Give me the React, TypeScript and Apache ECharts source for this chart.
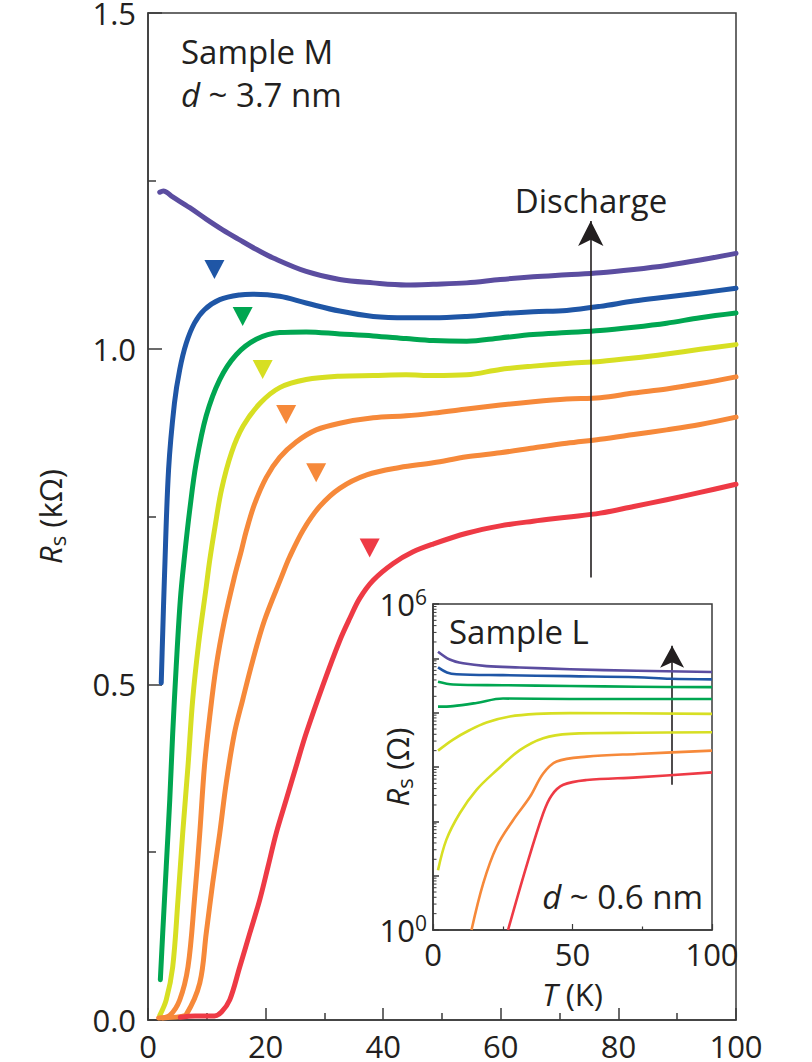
import React, { useEffect, useRef } from 'react';
import * as echarts from 'echarts';

const FONT = '"Open Sans", "Noto Sans", sans-serif';
const INK = '#231f20';
const AXIS = '#3a3a3a';

const PURPLE = '#5b4da0';
const BLUE = '#1f56a6';
const GREEN = '#00a651';
const YELLOW = '#d7df23';
const ORANGE = '#f6893a';
const RED = '#ee3a45';

// ---- Main panel: Sample M, d ~ 3.7 nm. T (K) vs Rs (kΩ) ----
const purpleT = [2.0, 2.6, 4.2, 7.1, 9.9, 12.7, 15.6, 18.4, 21.3, 26.9, 32.6, 38.3, 43.9, 48.5, 54.2, 59.9, 65.5, 71.2, 76.9, 82.6, 88.2, 93.9, 100];
const purpleR = [1.233, 1.235, 1.226, 1.210, 1.193, 1.177, 1.162, 1.148, 1.135, 1.115, 1.103, 1.098, 1.095, 1.096, 1.098, 1.103, 1.107, 1.110, 1.113, 1.118, 1.124, 1.132, 1.142];

const blueT = [2.25, 2.5, 2.8, 3.5, 4.5, 5.4, 6.5, 7.9, 9.6, 12.2, 15.6, 17.8, 22.4, 26.9, 32.6, 38.3, 44.0, 48.5, 54.2, 59.9, 65.5, 71.2, 76.9, 82.6, 88.2, 93.9, 100];
const blueR = [0.502, 0.576, 0.66, 0.820, 0.919, 0.969, 1.008, 1.038, 1.058, 1.073, 1.080, 1.081, 1.078, 1.068, 1.056, 1.048, 1.046, 1.046, 1.048, 1.052, 1.055, 1.057, 1.063, 1.071, 1.077, 1.083, 1.090];

const greenT = [2.1, 2.5, 3.1, 3.7, 4.2, 4.8, 5.5, 6.2, 7.1, 8.2, 9.9, 12.2, 15.0, 18.4, 22.4, 26.9, 32.6, 38.3, 43.9, 48.5, 54.2, 59.9, 65.5, 71.2, 76.9, 82.6, 88.2, 93.9, 100];
const greenR = [0.060, 0.129, 0.228, 0.328, 0.427, 0.527, 0.626, 0.690, 0.760, 0.830, 0.900, 0.954, 0.991, 1.014, 1.024, 1.025, 1.022, 1.019, 1.015, 1.012, 1.011, 1.016, 1.021, 1.024, 1.027, 1.032, 1.038, 1.046, 1.053];

const yellowT = [2.0, 3.1, 4.2, 5.1, 5.9, 6.8, 7.6, 8.6, 9.9, 10.5, 11.4, 12.5, 14.2, 16.2, 19.1, 22.4, 26.9, 32.6, 38.3, 43.9, 48.5, 54.2, 59.9, 65.5, 71.2, 76.9, 82.6, 88.2, 93.9, 100];
const yellowR = [0.007, 0.030, 0.079, 0.179, 0.278, 0.378, 0.477, 0.560, 0.645, 0.685, 0.735, 0.790, 0.845, 0.885, 0.919, 0.942, 0.954, 0.959, 0.960, 0.961, 0.960, 0.961, 0.969, 0.974, 0.978, 0.981, 0.986, 0.992, 0.999, 1.006];

const orange1T = [1.8, 3.7, 5.4, 6.8, 7.9, 8.8, 9.6, 10.5, 11.6, 13.0, 14.7, 15.9, 16.7, 18.1, 20.1, 22.4, 25.2, 28.6, 32.6, 38.3, 43.9, 48.5, 54.2, 59.9, 65.5, 71.2, 76.9, 82.6, 88.2, 93.9, 100];
const orange1R = [0.003, 0.007, 0.030, 0.079, 0.179, 0.278, 0.378, 0.452, 0.527, 0.595, 0.660, 0.700, 0.728, 0.768, 0.808, 0.838, 0.861, 0.879, 0.889, 0.897, 0.900, 0.904, 0.910, 0.916, 0.921, 0.925, 0.927, 0.934, 0.940, 0.948, 0.958];

const orange2T = [2.5, 5.4, 6.5, 8.8, 9.9, 11.0, 12.2, 13.3, 14.7, 16.1, 17.8, 19.8, 22.7, 24.1, 26.4, 29.2, 32.6, 37.2, 42.8, 48.5, 54.2, 59.9, 65.5, 71.2, 76.9, 82.6, 88.2, 93.9, 100];
const orange2R = [0.003, 0.005, 0.008, 0.055, 0.129, 0.204, 0.278, 0.353, 0.427, 0.477, 0.535, 0.595, 0.660, 0.690, 0.730, 0.765, 0.792, 0.812, 0.823, 0.830, 0.839, 0.845, 0.852, 0.859, 0.865, 0.872, 0.879, 0.887, 0.898];

const redT = [5.5, 8.0, 11.3, 12.5, 13.9, 15.6, 17.3, 19.0, 20.4, 21.8, 23.5, 25.2, 26.9, 29.8, 32.6, 34.3, 36.0, 38.3, 41.7, 45.0, 48.5, 54.2, 59.9, 65.5, 71.2, 76.9, 82.6, 88.2, 93.9, 100];
const redR = [0.004, 0.006, 0.006, 0.012, 0.030, 0.079, 0.129, 0.179, 0.228, 0.278, 0.328, 0.378, 0.427, 0.500, 0.565, 0.598, 0.628, 0.655, 0.680, 0.697, 0.709, 0.725, 0.736, 0.743, 0.749, 0.755, 0.765, 0.775, 0.786, 0.798];

// down-pointing triangle markers (onset temperatures)
const markerT = [11.3, 16.1, 19.5, 23.5, 28.6, 37.7];
const markerR = [1.118, 1.048, 0.969, 0.902, 0.815, 0.703];
const markerColors = [BLUE, GREEN, YELLOW, ORANGE, ORANGE, RED];

// "Discharge" arrow (data units)
const dischargeArrowT = 75.3;
const dischargeArrowR = [0.659, 1.19];

// ---- Inset: Sample L, d ~ 0.6 nm. T (K) vs Rs (Ω), log scale ----
const insPurpleT = [1.8, 6.0, 10.8, 19.2, 31.1, 49.1, 73.1, 100];
const insPurpleR = [1.32e5, 9.5e4, 8.1e4, 7.2e4, 6.8e4, 6.3e4, 5.9e4, 5.6e4];
const insBlueT = [1.8, 5.0, 8.4, 25.1, 49.1, 73.1, 85.0, 100];
const insBlueR = [6.8e4, 5.5e4, 5.1e4, 4.9e4, 4.7e4, 4.5e4, 4.2e4, 4.1e4];
const insGreen1T = [1.8, 7.2, 25.1, 49.1, 73.1, 100];
const insGreen1R = [3.7e4, 3.3e4, 3.2e4, 3.1e4, 3.0e4, 2.95e4];
const insGreen2T = [1.8, 7.2, 15.6, 25.1, 49.1, 100];
const insGreen2R = [1.29e4, 1.32e4, 1.51e4, 1.82e4, 1.78e4, 1.78e4];
const insYellow1T = [1.8, 7.2, 13.2, 19.2, 27.5, 37.1, 49.0, 100];
const insYellow1R = [2.0e3, 3.2e3, 4.8e3, 6.6e3, 8.5e3, 9.5e3, 9.8e3, 9.5e3];
const insYellow2T = [1.8, 4.8, 9.6, 15.6, 22.8, 31.1, 39.5, 49.1, 73.1, 100];
const insYellow2R = [12.6, 46, 141, 380, 870, 2040, 3390, 4070, 4270, 4370];
const insOrangeT = [13.8, 18.0, 22.8, 28.7, 34.7, 39.5, 44.3, 55.1, 73.1, 100];
const insOrangeR = [1, 7.2, 34, 105, 280, 760, 1260, 1550, 1740, 2000];
const insRedT = [26.9, 33.5, 39.5, 42.5, 46.7, 55.1, 73.1, 100];
const insRedR = [1, 15, 141, 300, 470, 575, 645, 795];

const insetArrowT = 85.7;
const insetArrowR = [470, 1.7e5];

const mainCurves = [
  { color: PURPLE, t: purpleT, r: purpleR },
  { color: BLUE, t: blueT, r: blueR },
  { color: GREEN, t: greenT, r: greenR },
  { color: YELLOW, t: yellowT, r: yellowR },
  { color: ORANGE, t: orange1T, r: orange1R },
  { color: ORANGE, t: orange2T, r: orange2R },
  { color: RED, t: redT, r: redR },
];

const insetCurves = [
  { color: PURPLE, t: insPurpleT, r: insPurpleR },
  { color: BLUE, t: insBlueT, r: insBlueR },
  { color: GREEN, t: insGreen1T, r: insGreen1R },
  { color: GREEN, t: insGreen2T, r: insGreen2R },
  { color: YELLOW, t: insYellow1T, r: insYellow1R },
  { color: YELLOW, t: insYellow2T, r: insYellow2R },
  { color: ORANGE, t: insOrangeT, r: insOrangeR },
  { color: RED, t: insRedT, r: insRedR },
];

const insetDecades = [1, 10, 100, 1e3, 1e4, 1e5];
const insetMinorTicks = insetDecades.flatMap((d) => [2, 3, 4, 5, 6, 7, 8, 9].map((m) => m * d));

const zip = (a: number[], b: number[]) => a.map((v, i) => [v, b[i]]);

export default function App() {
  const ref = useRef<HTMLDivElement>(null);
  useEffect(() => {
    if (!ref.current) return;
    const chart = echarts.init(ref.current, undefined, { renderer: 'svg' });

    const labelStyle = { color: INK, fontFamily: FONT, fontSize: 31 };
    const richBase = {
      i: { fontStyle: 'italic', fontSize: 31, fontFamily: FONT, color: INK, lineHeight: 36 },
      n: { fontSize: 31, fontFamily: FONT, color: INK, lineHeight: 36 },
      s: { fontSize: 22, fontFamily: FONT, color: INK, lineHeight: 22, verticalAlign: 'bottom' },
      b: { fontSize: 31, fontFamily: FONT, color: INK, lineHeight: 36 },
      p: { fontSize: 21, fontFamily: FONT, color: INK, lineHeight: 21, verticalAlign: 'top' },
    };

    const series: any[] = [];
    mainCurves.forEach((c, i) => {
      series.push({
        type: 'line',
        name: 'main' + i,
        xAxisIndex: 0,
        yAxisIndex: 0,
        data: zip(c.t, c.r),
        showSymbol: false,
        smooth: 0.35,
        lineStyle: { color: c.color, width: 5, cap: 'round', join: 'round' },
        z: 3,
        silent: true,
      });
    });
    series.push({
      type: 'scatter',
      name: 'markers',
      xAxisIndex: 0,
      yAxisIndex: 0,
      symbol: 'triangle',
      symbolRotate: 180,
      symbolSize: [20, 19],
      itemStyle: { opacity: 1 },
      data: markerT.map((t, i) => ({ value: [t, markerR[i]], itemStyle: { color: markerColors[i], opacity: 1 } })),
      z: 4,
      silent: true,
      markLine: {
        silent: true,
        symbol: ['none', 'arrow'],
        symbolSize: [19, 25],
        label: { show: false },
        lineStyle: { color: INK, width: 1.6, type: 'solid' },
        data: [[
          { coord: [dischargeArrowT, dischargeArrowR[0]] },
          { coord: [dischargeArrowT, dischargeArrowR[1]] },
        ]],
      },
    });
    insetCurves.forEach((c, i) => {
      series.push({
        type: 'line',
        name: 'inset' + i,
        xAxisIndex: 1,
        yAxisIndex: 1,
        data: zip(c.t, c.r),
        showSymbol: false,
        smooth: 0.35,
        lineStyle: { color: c.color, width: 2.6, cap: 'butt', join: 'round' },
        z: 6,
        silent: true,
        clip: true,
      });
    });
    series.push({
      type: 'custom',
      name: 'insetMinorTicks',
      xAxisIndex: 1,
      yAxisIndex: 1,
      data: insetMinorTicks.map((v) => [0, v]),
      encode: { x: 0, y: 1 },
      silent: true,
      clip: false,
      z: 7,
      renderItem: (params: any, api: any) => {
        const p = api.coord([0, api.value(1)]);
        return {
          type: 'line',
          shape: { x1: p[0], y1: p[1], x2: p[0] + 3.5, y2: p[1] },
          style: { stroke: AXIS, lineWidth: 1 },
        };
      },
    });
    series.push({
      type: 'scatter',
      name: 'insetArrow',
      xAxisIndex: 1,
      yAxisIndex: 1,
      data: [],
      silent: true,
      markLine: {
        silent: true,
        symbol: ['none', 'arrow'],
        symbolSize: [18, 22],
        label: { show: false },
        lineStyle: { color: INK, width: 1.6, type: 'solid' },
        data: [[
          { coord: [insetArrowT, insetArrowR[0]] },
          { coord: [insetArrowT, insetArrowR[1]] },
        ]],
      },
    });

    const option: any = {
      animation: false,
      backgroundColor: '#ffffff',
      grid: [
        {
          left: 148, right: 76, top: 13, bottom: 42,
          show: true, borderColor: AXIS, borderWidth: 1.5, backgroundColor: 'transparent',
          outerBoundsMode: 'none', containLabel: false, z: 0,
        },
        {
          left: 433, right: 100, top: 604, bottom: 132,
          show: true, borderColor: AXIS, borderWidth: 1.5, backgroundColor: '#ffffff',
          outerBoundsMode: 'none', containLabel: false, z: 5,
        },
      ],
      xAxis: [
        {
          type: 'value', gridIndex: 0, min: 0, max: 100, interval: 20,
          axisLine: { show: true, lineStyle: { color: AXIS, width: 1.5 } },
          axisTick: { show: true, inside: true, length: 12, lineStyle: { color: AXIS, width: 1.5 } },
          minorTick: { show: true, splitNumber: 2, length: 7, lineStyle: { color: AXIS, width: 1.5 } },
          splitLine: { show: false },
          axisLabel: { ...labelStyle, margin: 10 },
        },
        {
          type: 'value', gridIndex: 1, min: 0, max: 100, interval: 50,
          axisLine: { show: true, lineStyle: { color: AXIS, width: 1.5 } },
          axisTick: { show: true, inside: true, length: 6, lineStyle: { color: AXIS, width: 1.2 } },
          minorTick: { show: true, splitNumber: 2, length: 3.5, lineStyle: { color: AXIS, width: 1.2 } },
          splitLine: { show: false },
          axisLabel: { ...labelStyle, margin: 8 },
          name: '{i|T} (K)',
          nameLocation: 'middle',
          nameGap: 46,
          nameMoveOverlap: false,
          nameTextStyle: { ...labelStyle, fontSize: 31, rich: richBase },
          z: 6,
        },
      ],
      yAxis: [
        {
          type: 'value', gridIndex: 0, min: 0, max: 1.5, interval: 0.5,
          axisLine: { show: true, lineStyle: { color: AXIS, width: 1.5 } },
          axisTick: { show: true, inside: true, length: 14, lineStyle: { color: AXIS, width: 1.5 } },
          minorTick: { show: true, splitNumber: 2, length: 8, lineStyle: { color: AXIS, width: 1.5 } },
          splitLine: { show: false },
          axisLabel: { ...labelStyle, margin: 12, formatter: (v: number) => v.toFixed(1) },
          name: '{i|R}{s|s} (kΩ)',
          nameLocation: 'middle',
          nameGap: 80,
          nameMoveOverlap: false,
          nameTextStyle: { ...labelStyle, rich: richBase },
        },
        {
          type: 'log', gridIndex: 1, logBase: 10, min: 1, max: 1e6, splitNumber: 6,
          axisLine: { show: true, lineStyle: { color: AXIS, width: 1.5 } },
          axisTick: { show: true, inside: true, length: 6, lineStyle: { color: AXIS, width: 1.5 } },
          minorTick: { show: false },
          splitLine: { show: false },
          axisLabel: {
            ...labelStyle,
            margin: 6,
            formatter: (v: number) => {
              const e = Math.round(Math.log10(v));
              if (Math.abs(Math.log10(v) - e) > 1e-6) return '';
              if (e === 0) return '{b|10}{p|0}';
              if (e === 6) return '{b|10}{p|6}';
              return '';
            },
            rich: richBase,
          },
          name: '{i|R}{s|s} (Ω)',
          nameLocation: 'middle',
          nameGap: 18,
          nameMoveOverlap: false,
          nameTextStyle: { ...labelStyle, rich: richBase },
          z: 6,
        },
      ],
      graphic: [
        {
          type: 'text', x: 181, y: 51, z: 10,
          style: { text: 'Sample M', fontSize: 33, fontFamily: FONT, fill: INK, align: 'left', verticalAlign: 'middle' },
        },
        {
          type: 'text', x: 181, y: 94, z: 10,
          style: {
            text: '{i|d} ~ 3.7 nm', fontSize: 33, fontFamily: FONT, fill: INK, align: 'left', verticalAlign: 'middle',
            rich: { i: { fontStyle: 'italic', fontSize: 33, fontFamily: FONT, fill: INK } },
          },
        },
        {
          type: 'text', x: 591, y: 200, z: 10,
          style: { text: 'Discharge', fontSize: 33, fontFamily: FONT, fill: INK, align: 'center', verticalAlign: 'middle' },
        },
        {
          type: 'text', x: 449, y: 631, z: 10,
          style: { text: 'Sample L', fontSize: 33, fontFamily: FONT, fill: INK, align: 'left', verticalAlign: 'middle' },
        },
        {
          type: 'text', x: 703, y: 896, z: 10,
          style: {
            text: '{i|d} ~ 0.6 nm', fontSize: 33, fontFamily: FONT, fill: INK, align: 'right', verticalAlign: 'middle',
            rich: { i: { fontStyle: 'italic', fontSize: 33, fontFamily: FONT, fill: INK } },
          },
        },
      ],
      series,
    };

    chart.setOption(option);
    return () => chart.dispose();
  }, []);

  return (
    <div
      ref={ref}
      style={{ position: 'absolute', left: 0, top: 0, width: 812, height: 1062, background: '#ffffff' }}
    />
  );
}
